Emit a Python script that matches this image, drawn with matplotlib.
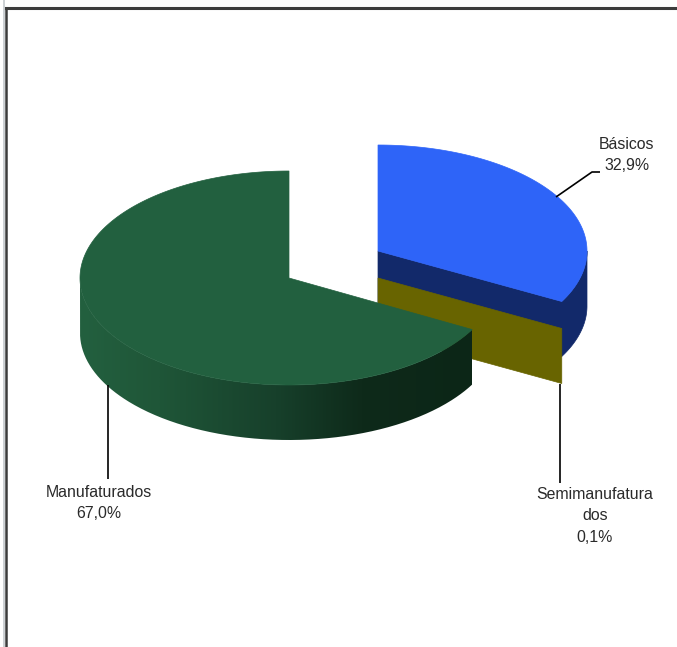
import numpy as np
import matplotlib
matplotlib.use("Agg")
import matplotlib.pyplot as plt
from matplotlib.patches import Polygon, PathPatch
from matplotlib.path import Path
from matplotlib.colors import LinearSegmentedColormap

labels = ["Básicos\n32,9%", "Semimanufatura\ndos\n0,1%", "Manufaturados\n67,0%"]
values = [32.9, 0.1, 67.0]
top_colors = ["#2e64f8", "#686400", "#22603f"]
wall_colors = ["#12296a", "#686400", "#22603f"]
centers = [(378, 251), (378, 278), (289, 278)]
radii = [(209, 106), (209, 106), (209, 107)]
depth = 55
label_xy = [(627, 155), (595, 516), (98.5, 503)]
leaders = [[(556, 197), (592, 172), (600, 172)],
           [(560, 384), (560, 483)],
           [(108, 385), (108, 479)]]

W, H = 677, 647
fig = plt.figure(figsize=(W / 100, H / 100), dpi=100)
ax = fig.add_axes([0, 0, 1, 1])
ax.set_xlim(0, W)
ax.set_ylim(H, 0)
ax.axis("off")

edges = np.concatenate([[0], np.cumsum(values)]) / sum(values) * 2 * np.pi
spans = list(zip(edges[:-1], edges[1:]))


def pt(i, a, dz=0):
    cx, cy = centers[i]
    rx, ry = radii[i]
    return np.column_stack([cx + rx * np.sin(a), cy - ry * np.cos(a) + dz])


def arc(i, a0, a1, dz=0, n=300):
    return pt(i, np.linspace(a0, a1, n), dz)


# frame of the original window
ax.plot([3.5, 3.5], [0, H], color="#c3c8cc", lw=1.2, zorder=1)
ax.plot([6, 6], [7.5, H], color="#3c3c3c", lw=1.8, zorder=1)
ax.plot([6, W], [7.5, 7.5], color="#3c3c3c", lw=2.2, zorder=1)

# Básicos: outer wall and cut face as one dark shape, then the top
a0, a1 = spans[0]
wall_start = np.pi / 2
cx0, cy0 = centers[0]
dark = np.vstack([arc(0, wall_start, a1), [(cx0, cy0)], [(cx0, cy0 + depth)],
                  arc(0, wall_start, a1, depth)[::-1]])
ax.add_patch(Polygon(dark, fc=wall_colors[0], ec=wall_colors[0], lw=0.5, zorder=2))
ax.add_patch(Polygon(np.vstack([[centers[0]], arc(0, a0, a1)]), fc=top_colors[0],
                     ec=top_colors[0], lw=0.5, zorder=3))

# Semimanufaturados: the very thin slice shows its cut face
a0, a1 = spans[1]
face = np.vstack([[centers[1]], pt(1, np.array([a0])), pt(1, np.array([a0]), depth),
                  [(centers[1][0], centers[1][1] + depth)]])
ax.add_patch(Polygon(face, fc=wall_colors[1], ec=wall_colors[1], lw=0.5, zorder=4))

# Manufaturados: shaded wall and flat top
a0, a1 = spans[2]
wall = np.vstack([arc(2, a0, 1.5 * np.pi), arc(2, a0, 1.5 * np.pi, depth)[::-1]])
clip = PathPatch(Path(np.vstack([wall, wall[:1]])), transform=ax.transData, fc="none", ec="none")
ax.add_patch(clip)
cmap = LinearSegmentedColormap.from_list(
    "wall", [(0, "#23603f"), (0.2, "#1f5638"), (0.5, "#17402b"), (0.72, "#0e2a1a"), (1, "#0c2617")])
im = ax.imshow(np.linspace(0, 1, 400)[None, :], cmap=cmap, aspect="auto",
               extent=(80, 472, 445, 270), zorder=5)
im.set_clip_path(clip)
ax.set_xlim(0, W)
ax.set_ylim(H, 0)
ax.add_patch(Polygon(np.vstack([[centers[2]], arc(2, a0, a1)]), fc=top_colors[2],
                     ec=top_colors[2], lw=0.5, zorder=6))

# leader lines and labels
for line in leaders:
    xs, ys = zip(*line)
    ax.plot(xs, ys, color="black", lw=1.2, zorder=7, solid_capstyle="butt")
for (x, y), s in zip(label_xy, labels):
    ax.text(x, y, s, ha="center", va="center", family="Liberation Sans",
            fontsize=11.4, color="#2a2a2a", linespacing=1.55, zorder=8)

fig.savefig("out.png", dpi=100)
